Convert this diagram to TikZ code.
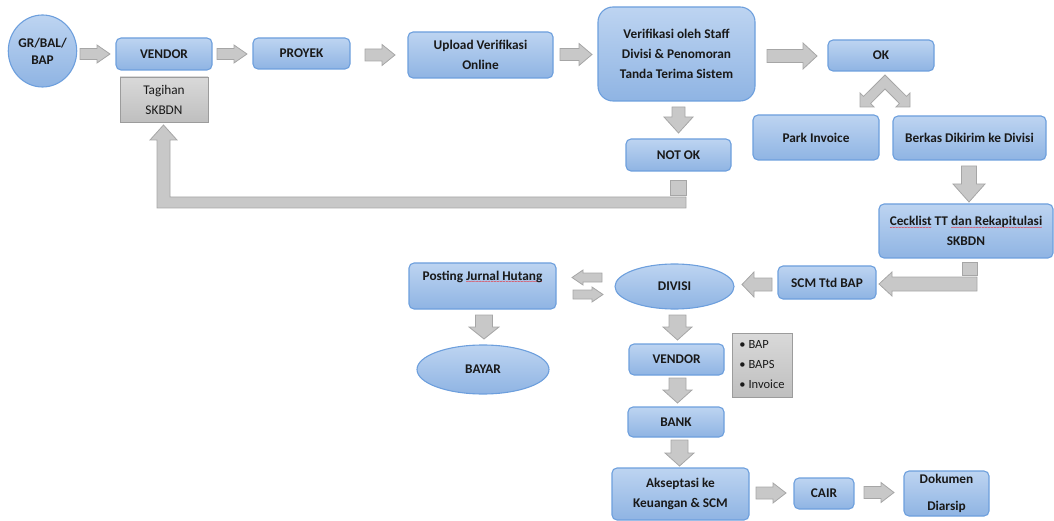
\documentclass[tikz,border=0pt]{standalone}
\usepackage{fontspec}
\setmainfont{Carlito}
\usetikzlibrary{shapes.geometric}
\newcommand\redwave[1]{\setbox0=\hbox{#1}\leavevmode\rlap{\raisebox{-3.6pt}{\hbox to \wd0{\color{red}\fontsize{6}{6}\selectfont\mdseries\xleaders\hbox{\symbol{"7E}}\hfill}}}\box0\relax}
\newcommand\bfont{\fontsize{13.3}{20}\selectfont\bfseries}
\newcommand\rfont{\fontsize{13.3}{20}\selectfont}
\definecolor{boxtop}{HTML}{BDD4F1}
\definecolor{boxbot}{HTML}{8FB4E3}
\definecolor{boxline}{HTML}{6D9FDD}
\definecolor{graytop}{HTML}{D9D9D9}
\definecolor{graybot}{HTML}{BFBFBF}
\definecolor{grayline}{HTML}{9C9C9C}
\definecolor{arrfill}{HTML}{C8C8C8}
\definecolor{arrline}{HTML}{A6A6A6}
\tikzset{
  bluebox/.style={draw=boxline, line width=1.1pt, rounded corners=5pt, top color=boxtop, bottom color=boxbot, font=\bfont, align=center, inner sep=0pt, text=black!90},
  blueell/.style={ellipse, draw=boxline, line width=1.1pt, top color=boxtop, bottom color=boxbot, font=\bfont, align=center, inner sep=0pt, text=black!90},
  graybox/.style={draw=grayline, line width=0.9pt, top color=graytop, bottom color=graybot, font=\rfont, align=center, inner sep=0pt, text=black!90},
  garrow/.style={draw=arrline, fill=arrfill, line width=0.8pt, line join=miter},
  pics/barrow/.style args={#1/#2/#3/#4}{code={
    \draw[garrow] (0,{#3/2}) -- ({#1-#4},{#3/2}) -- ({#1-#4},{#2/2}) -- (#1,0)
      -- ({#1-#4},{-#2/2}) -- ({#1-#4},{-#3/2}) -- (0,{-#3/2}) -- cycle;}}
}
\begin{document}
\begin{tikzpicture}[x=1pt,y=-1pt]
\useasboundingbox (0,0) rectangle (1054,521);

% ---- nodes ----
\node[blueell, minimum width=65, minimum height=72] (gr) at (42.5,51) {GR/BAL/\\[-3pt]BAP};
\node[bluebox, minimum width=96, minimum height=32] (vendor) at (164,54) {VENDOR};
\node[graybox, minimum width=88, minimum height=45] (tagihan) at (164,99.5) {Tagihan\\SKBDN};
\node[bluebox, minimum width=97, minimum height=31] (proyek) at (301.5,53.5) {PROYEK};
\node[bluebox, minimum width=145, minimum height=46] (upload) at (480.5,55) {Upload Verifikasi\\Online};
\node[bluebox, rounded corners=15pt, minimum width=157, minimum height=94] (verif) at (676.5,54) {Verifikasi oleh Staff\\Divisi \& Penomoran\\Tanda Terima Sistem};
\node[bluebox, minimum width=106, minimum height=31] (ok) at (881,55.5) {OK};
\node[bluebox, minimum width=126, minimum height=45] (park) at (816,137.5) {Park Invoice};
\node[bluebox, minimum width=153, minimum height=44] (berkas) at (969.5,138) {Berkas Dikirim ke Divisi};
\node[bluebox, minimum width=174, minimum height=54] (cecklist) at (966,231) {\redwave{Cecklist} TT \redwave{dan Rekapitulasi}\\SKBDN};
\node[bluebox, minimum width=105, minimum height=32] (notok) at (678.5,155) {NOT OK};
\node[bluebox, minimum width=98, minimum height=33] (scm) at (827,282.5) {SCM Ttd BAP};
\node[blueell, minimum width=119, minimum height=45] (divisi) at (674.5,286.5) {DIVISI};
\node[bluebox, minimum width=147, minimum height=46, text height=9pt, text depth=21pt] (posting) at (482.5,286) {Posting \redwave{Jurnal Hutang}};
\node[blueell, minimum width=132, minimum height=49] (bayar) at (483,369.5) {BAYAR};
\node[bluebox, minimum width=95, minimum height=31] (vendor2) at (676.5,359.5) {VENDOR};
\node[graybox, align=left, minimum width=60, minimum height=64, font=\fontsize{12.5}{20}\selectfont] (docs) at (762,365) {\textbullet\ BAP\\\textbullet\ BAPS\\\textbullet\ Invoice};
\node[bluebox, minimum width=96, minimum height=30] (bank) at (676,422) {BANK};
\node[bluebox, minimum width=137, minimum height=52] (akseptasi) at (680.5,494) {Akseptasi ke\\Keuangan \& SCM};
\node[bluebox, minimum width=60, minimum height=31] (cair) at (824,493.5) {CAIR};
\node[bluebox, minimum width=85, minimum height=45] (dokumen) at (946.5,493.5) {Dokumen\\[7pt]Diarsip};

% ---- block arrows ----
\pic at (80,54) {barrow=30/18/11/13};
\pic at (217,54) {barrow=30/18/11/13};
\pic at (365,55) {barrow=30/21/12/13};
\pic at (560,54.5) {barrow=32/22/12/13};
\pic at (767,56) {barrow=50/26/13/14};
\pic[rotate=-90] at (678.5,107) {barrow=26/29/13/16};
\pic[rotate=-90] at (969,166) {barrow=36/32/15/18};
\pic[rotate=180] at (772,284.5) {barrow=30/25/13/12};
\pic[rotate=180] at (602,277.5) {barrow=30/15/9/11};
\pic at (573,294.5) {barrow=30/15/9/11};
\pic[rotate=-90] at (484,315) {barrow=24/30/17/12};
\pic[rotate=-90] at (677.5,315) {barrow=25/29/17/13};
\pic[rotate=-90] at (677.5,378) {barrow=25/29/17/13};
\pic[rotate=-90] at (679.5,440) {barrow=26/29/17/13};
\pic at (756,493) {barrow=30/20/12/13};
\pic at (864,492.5) {barrow=30/20/12/13};

% split arrow from OK
\draw[garrow] (885,75) -- (863.5,96.4) -- (860,92.9) -- (860,107) -- (874.1,107)
  -- (870.6,103.5) -- (885,89) -- (899.4,103.5) -- (895.9,107) -- (910,107)
  -- (910,92.9) -- (906.5,96.4) -- cycle;

% return arrow NOT OK -> Tagihan
\draw[garrow] (670,180) rectangle (686,195);
\draw[garrow] (686,197) -- (170,197) -- (170,140) -- (177,140) -- (163.5,125)
  -- (150,140) -- (157,140) -- (157,208) -- (686,208) -- cycle;

% Cecklist -> SCM
\draw[garrow] (962,262) rectangle (977,275);
\draw[garrow] (977,277) -- (892,277) -- (892,272) -- (879,284) -- (892,296)
  -- (892,291) -- (977,291) -- cycle;
\end{tikzpicture}
\end{document}
